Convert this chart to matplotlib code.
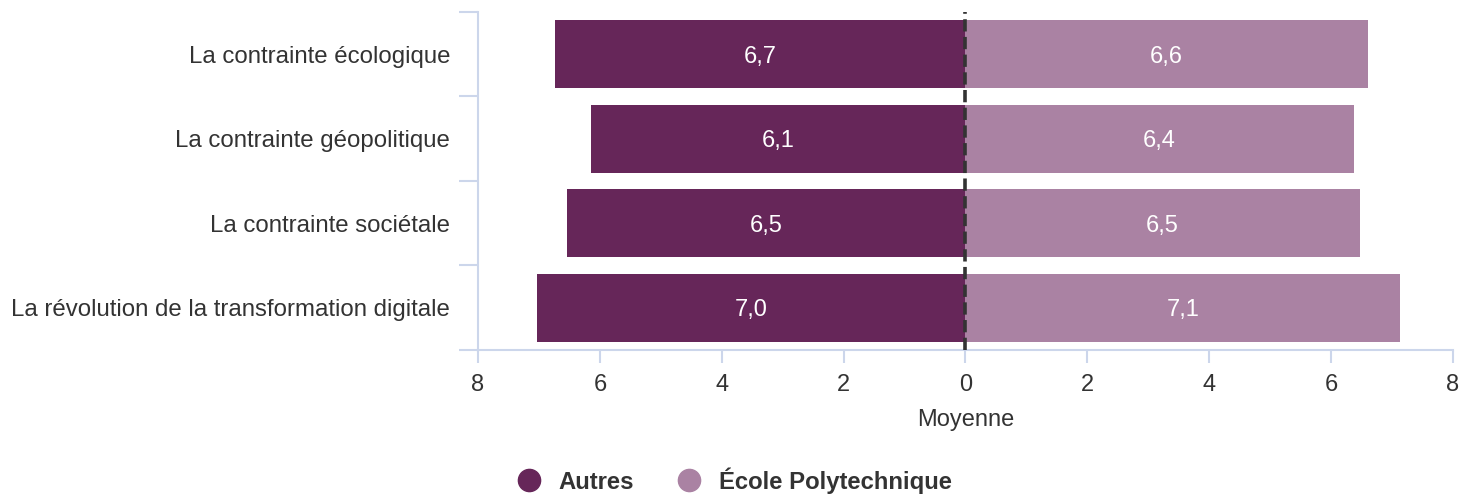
import numpy as np
import matplotlib.pyplot as plt
from matplotlib.lines import Line2D

plt.rcParams['font.family'] = ['Liberation Sans', 'DejaVu Sans']

# donnees
categories = ["La contrainte écologique", "La contrainte géopolitique",
              "La contrainte sociétale", "La révolution de la transformation digitale"]
autres = [6.74, 6.14, 6.54, 7.04]
polytechnique = [6.60, 6.37, 6.47, 7.13]
series_names = ["Autres", "École Polytechnique"]
x_ticks = [-8, -6, -4, -2, 0, 2, 4, 6, 8]

c_autres = "#662659"
c_poly = "#aa82a3"
c_axis = "#ccd6eb"
c_text = "#333333"

fig = plt.figure(figsize=(14.74, 4.97), dpi=100)
ax = fig.add_axes([0.3243, 0.2958, 0.6614, 0.6801])

y = np.arange(len(categories))
ax.barh(y, [-v for v in autres], height=0.8, color=c_autres, zorder=2)
ax.barh(y, polytechnique, height=0.8, color=c_poly, zorder=2)

for i in range(len(categories)):
    ax.text(-autres[i] / 2, y[i], f"{autres[i]:.1f}".replace(".", ","),
            color="white", fontsize=17, ha="center", va="center_baseline", zorder=3)
    ax.text(polytechnique[i] / 2, y[i], f"{polytechnique[i]:.1f}".replace(".", ","),
            color="white", fontsize=17, ha="center", va="center_baseline", zorder=3)

ax.axvline(0, color=c_text, lw=2.6, ls=(0, (3.4, 1.5)), zorder=4)

ax.set_xlim(-8, 8)
ax.set_ylim(len(categories) - 0.5, -0.5)

ax.set_xticks(x_ticks)
ax.set_xticklabels([str(abs(t)) for t in x_ticks], fontsize=17, color=c_text)
ax.set_yticks(y)
ax.set_yticklabels(categories, fontsize=17.3, color=c_text, va="center_baseline")
ax.set_yticks(np.arange(len(categories) + 1) - 0.5, minor=True)

ax.tick_params(axis="x", length=9, width=1.5, color=c_axis, direction="out", pad=8)
ax.tick_params(axis="y", which="major", length=0, pad=20)
ax.tick_params(axis="y", which="minor", length=13.5, width=1.5, color=c_axis)

for s in ["top", "right"]:
    ax.spines[s].set_visible(False)
for s in ["left", "bottom"]:
    ax.spines[s].set_color(c_axis)
    ax.spines[s].set_linewidth(1.5)

ax.set_xlabel("Moyenne", fontsize=17, color=c_text, labelpad=10)

handles = [Line2D([], [], marker="o", ls="", markersize=16, color=c_autres),
           Line2D([], [], marker="o", ls="", markersize=16, color=c_poly)]
leg = fig.legend(handles, series_names, loc="center", bbox_to_anchor=(0.494, 0.033),
                 ncol=2, frameon=False, handletextpad=0.25, columnspacing=1.3,
                 prop={"size": 17.2, "weight": "bold"})
for t in leg.get_texts():
    t.set_color(c_text)

fig.savefig("out.png", dpi=100)
